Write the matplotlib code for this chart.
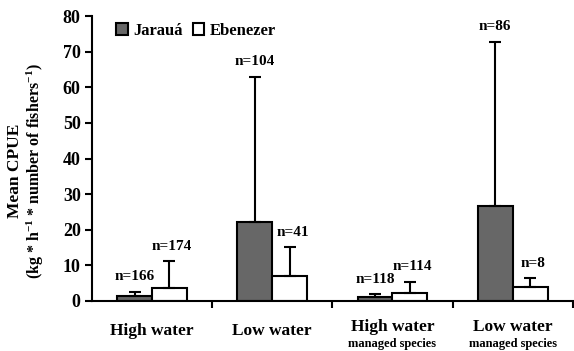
import numpy as np
import matplotlib
matplotlib.use("Agg")
import matplotlib.pyplot as plt

plt.rcParams['font.family'] = 'Liberation Serif'
plt.rcParams['font.weight'] = 'bold'
plt.rcParams['mathtext.fontset'] = 'custom'
plt.rcParams['mathtext.rm'] = 'Liberation Serif:bold'
plt.rcParams['mathtext.default'] = 'rm'

# data
categories = ['High water', 'Low water', 'High water', 'Low water']
subtitles = ['', '', 'managed species', 'managed species']
jaraua_mean = [1.5, 22.3, 1.2, 26.7]
jaraua_err = [1.1, 40.7, 0.7, 46.1]
ebenezer_mean = [3.6, 7.0, 2.3, 4.0]
ebenezer_err = [7.6, 8.2, 3.1, 2.4]
jaraua_n = ['n=166', 'n=104', 'n=118', 'n=86']
ebenezer_n = ['n=174', 'n=41', 'n=114', 'n=8']

fig = plt.figure(figsize=(5.74, 3.51), dpi=100)
ax = fig.add_axes([0.160, 0.1425, 0.838, 0.8115])

x = np.arange(len(categories))
w = 0.29
err_kw = dict(ecolor='black', elinewidth=1.5, capsize=4, capthick=1.5)
ax.bar(x - w / 2, jaraua_mean, w, color='#676767', edgecolor='black', linewidth=1.5,
       yerr=[np.zeros(4), jaraua_err], error_kw=err_kw, label='Jarauá')
ax.bar(x + w / 2, ebenezer_mean, w, color='white', edgecolor='black', linewidth=1.5,
       yerr=[np.zeros(4), ebenezer_err], error_kw=err_kw, label='Ebenezer')

for i in range(len(categories)):
    ax.annotate(jaraua_n[i], (x[i] - w / 2, jaraua_mean[i] + jaraua_err[i]),
                xytext=(0, 6), textcoords='offset points', ha='center', va='bottom', fontsize=11)
    ax.annotate(ebenezer_n[i], (x[i] + w / 2, ebenezer_mean[i] + ebenezer_err[i]),
                xytext=(2, 6), textcoords='offset points', ha='center', va='bottom', fontsize=11)

ax.set_xlim(-0.5, 3.5)
ax.set_ylim(0, 80)
ax.set_yticks(range(0, 81, 10))
ax.tick_params(axis='y', labelsize=13, width=1.5, length=5, pad=3)
ax.set_xticks(list(x[:-1] + 0.5) + [3.5])
ax.set_xticklabels([])
ax.tick_params(axis='x', width=1.5, length=5)
for s in ['top', 'right']:
    ax.spines[s].set_visible(False)
for s in ['left', 'bottom']:
    ax.spines[s].set_linewidth(1.5)

trans = ax.get_xaxis_transform()
for i, c in enumerate(categories):
    if subtitles[i]:
        ax.text(x[i], -0.09, c, transform=trans, ha='center', va='center', fontsize=12.5)
        ax.text(x[i], -0.152, subtitles[i], transform=trans, ha='center', va='center', fontsize=9)
    else:
        ax.text(x[i], -0.105, c, transform=trans, ha='center', va='center', fontsize=12.5)

fig.text(0.027, 0.513, 'Mean CPUE', rotation=90, ha='center', va='center', fontsize=12.5)
fig.text(0.062, 0.513, r'(kg * h$^{-1}$ * number of fishers$^{-1}$)', rotation=90,
         ha='center', va='center', fontsize=11.5)

ax.legend(loc='upper left', bbox_to_anchor=(0.02, 1.03), ncol=2, frameon=False,
          fontsize=12, handlelength=0.7, handleheight=0.7, handletextpad=0.3,
          columnspacing=0.6)

fig.savefig('out.png', dpi=100)
